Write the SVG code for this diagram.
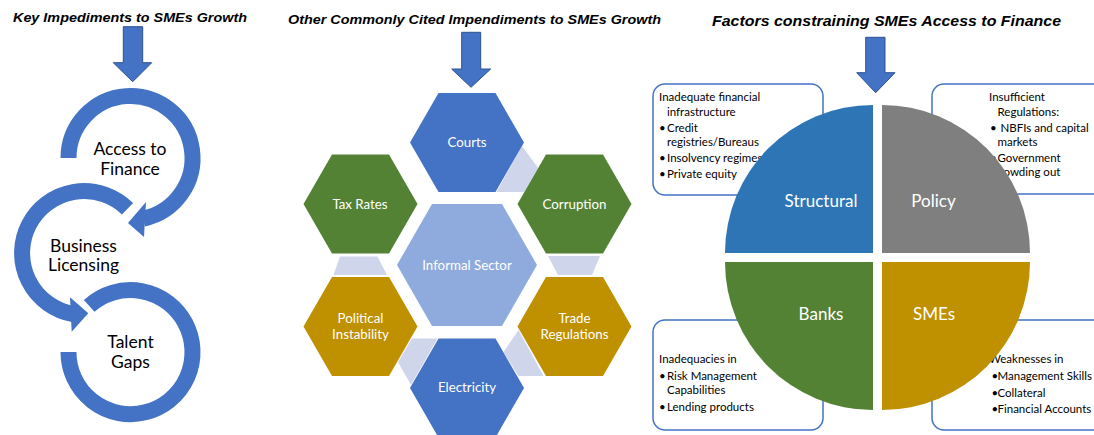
<svg xmlns="http://www.w3.org/2000/svg" width="1094" height="435" viewBox="0 0 1094 435">
<style>
.title{font-family:"Liberation Sans",Arial,sans-serif;font-weight:bold;font-style:italic;fill:#000}
.ring{fill:none;stroke:#4472C4;stroke-width:16;stroke-linecap:butt}
.head{fill:#4472C4}
.rt{font-family:Lato,"Open Sans",sans-serif;font-size:17.5px;fill:#000;text-anchor:middle}
.ht{font-family:Lato,"Open Sans",sans-serif;font-size:13.3px;fill:#fff;text-anchor:middle}
.pt{font-family:Lato,"Open Sans",sans-serif;font-size:17px;fill:#fff;text-anchor:middle}
.bt{font-family:Lato,"Open Sans",sans-serif;font-size:11.5px;fill:#000}
.down{fill:#4472C4;stroke:#2F528F;stroke-width:1}
.conn{fill:#CFD5EA}
.box{fill:#fff;stroke:#4472C4;stroke-width:1.5}
.blue{fill:#4472C4}.green{fill:#548235}.gold{fill:#BF9000}
</style>
<rect width="1094" height="435" fill="#fff"/>

<g id="titles">
<text class="title" x="13" y="22" font-size="13" textLength="234" lengthAdjust="spacingAndGlyphs">Key Impediments to SMEs Growth</text>
<text class="title" x="288" y="24" font-size="13" textLength="373" lengthAdjust="spacingAndGlyphs">Other Commonly Cited Impendiments to SMEs Growth</text>
<text class="title" x="712" y="26" font-size="14.5" textLength="349" lengthAdjust="spacingAndGlyphs">Factors constraining SMEs Access  to Finance</text>
</g>

<g id="arrows">
<polygon class="down" points="123.3,26.7 142.7,26.7 142.7,62.7 151.7,62.7 132.7,81.7 113.3,62.7 123.3,62.7"/>
<polygon class="down" points="461.7,32.3 480.7,32.3 480.7,69 490.7,69 471,87.3 451.7,69 461.7,69"/>
<polygon class="down" points="865.7,37.3 885,37.3 885,72.7 895,72.7 875.7,92.7 856.7,72.7 865.7,72.7"/>
</g>

<g id="ring-access">
<path class="ring" d="M68.5,158 A62,62 0 1 1 143.4,218.6"/>
<polygon class="head" points="146,202 144,237 128,223"/>
<text class="rt" x="130" y="155">Access to</text>
<text class="rt" x="130" y="175">Finance</text>
</g>
<g id="ring-licensing">
<path class="ring" d="M127.5,208.8 A62,62 0 1 0 73.2,314.1"/>
<polygon class="head" points="70,297.3 71.7,331.7 88.3,313.3"/>
<text class="rt" x="83.5" y="252">Business</text>
<text class="rt" x="83.5" y="271">Licensing</text>
</g>
<g id="ring-talent">
<path class="ring" d="M89.2,305.9 A62,62 0 1 1 68.5,352"/>
<text class="rt" x="130.5" y="348">Talent</text>
<text class="rt" x="130.5" y="368">Gaps</text>
</g>

<g id="connectors">
<polygon class="conn" points="522,146 538.2,168 524.4,192 496.5,192"/>
<polygon class="conn" points="340,256.5 377.5,256.5 387,275 333.5,275"/>
<polygon class="conn" points="548,256 600,256 592,275 558,275"/>
<polygon class="conn" points="412,338.5 437.5,338.5 411,385 398,362"/>
<polygon class="conn" points="518.5,330 543.5,376 518.5,376 503.5,352"/>
</g>

<g id="hex-courts">
<polygon class="blue" points="410,142.5 438.5,93 495.5,93 524,142.5 495.5,192 438.5,192"/>
<text class="ht" x="467" y="147">Courts</text>
</g>
<g id="hex-tax">
<polygon class="green" points="303.5,204 332,154.5 389,154.5 417.5,204 389,253.5 332,253.5"/>
<text class="ht" x="360" y="209">Tax Rates</text>
</g>
<g id="hex-corruption">
<polygon class="green" points="517.5,204 546,154.5 603,154.5 631.5,204 603,253.5 546,253.5"/>
<text class="ht" x="574.5" y="209">Corruption</text>
</g>
<g id="hex-informal">
<polygon fill="#8FAADC" points="397,265 432,204 502,204 537,265 502,326 432,326"/>
<text class="ht" x="467" y="269.5" fill="#F2F2F2">Informal Sector</text>
</g>
<g id="hex-political">
<polygon class="gold" points="303.5,326.5 332,277 389,277 417.5,326.5 389,376 332,376"/>
<text class="ht" x="360.5" y="323">Political</text>
<text class="ht" x="360.5" y="339">Instability</text>
</g>
<g id="hex-trade">
<polygon class="gold" points="517.5,326.5 546,277 603,277 631.5,326.5 603,376 546,376"/>
<text class="ht" x="574.5" y="323">Trade</text>
<text class="ht" x="574.5" y="339">Regulations</text>
</g>
<g id="hex-electricity">
<polygon class="blue" points="410,388 438.5,338.5 495.5,338.5 524,388 495.5,437.5 438.5,437.5"/>
<text class="ht" x="467" y="392">Electricity</text>
</g>

<g id="box-structural">
<rect class="box" x="653" y="84" width="170" height="111" rx="12"/>
<text class="bt" x="659" y="100.7">Inadequate financial</text>
<text class="bt" x="667" y="116">infrastructure</text>
<text class="bt" x="659" y="131.7">•</text><text class="bt" x="667" y="131.7">Credit</text>
<text class="bt" x="667" y="146">registries/Bureaus</text>
<text class="bt" x="659" y="161.7">•</text><text class="bt" x="667" y="161.7">Insolvency regimes</text>
<text class="bt" x="659" y="178">•</text><text class="bt" x="667" y="178">Private equity</text>
</g>
<g id="box-policy">
<rect class="box" x="932" y="84" width="180" height="110" rx="12"/>
<text class="bt" x="989" y="100.7">Insufficient</text>
<text class="bt" x="997.5" y="116">Regulations:</text>
<text class="bt" x="990" y="131.7">•</text><text class="bt" x="1000.5" y="131.7">NBFIs and capital</text>
<text class="bt" x="997.5" y="146">markets</text>
<text class="bt" x="990" y="161.7">•</text><text class="bt" x="997.5" y="161.7">Government</text>
<text class="bt" x="994" y="176">crowding out</text>
</g>
<g id="box-banks">
<rect class="box" x="653" y="320" width="170" height="110" rx="12"/>
<text class="bt" x="659" y="363.3">Inadequacies in</text>
<text class="bt" x="659" y="380">•</text><text class="bt" x="667" y="380">Risk Management</text>
<text class="bt" x="667" y="394">Capabilities</text>
<text class="bt" x="659" y="410.7">•</text><text class="bt" x="667" y="410.7">Lending products</text>
</g>
<g id="box-smes">
<rect class="box" x="932" y="320" width="180" height="110" rx="12"/>
<text class="bt" x="989" y="363.3">Weaknesses in</text>
<text class="bt" x="991.5" y="380">•</text><text class="bt" x="997.5" y="380">Management Skills</text>
<text class="bt" x="991.5" y="396.7">•</text><text class="bt" x="997.5" y="396.7">Collateral</text>
<text class="bt" x="991.5" y="413.3">•</text><text class="bt" x="997.5" y="413.3">Financial Accounts</text>
</g>

<g id="pie-structural">
<path fill="#2E75B6" d="M873,253 L873,105 A148,148 0 0 0 725,253 Z"/>
<text class="pt" x="821" y="207">Structural</text>
</g>
<g id="pie-policy">
<path fill="#7F7F7F" d="M882,253 L882,105 A148,148 0 0 1 1030,253 Z"/>
<text class="pt" x="933.5" y="207">Policy</text>
</g>
<g id="pie-banks">
<path fill="#548235" d="M873,262 L725,262 A148,148 0 0 0 873,410 Z"/>
<text class="pt" x="821" y="320">Banks</text>
</g>
<g id="pie-smes">
<path fill="#BF9000" d="M882,262 L1030,262 A148,148 0 0 1 882,410 Z"/>
<text class="pt" x="934" y="320">SMEs</text>
</g>
</svg>
